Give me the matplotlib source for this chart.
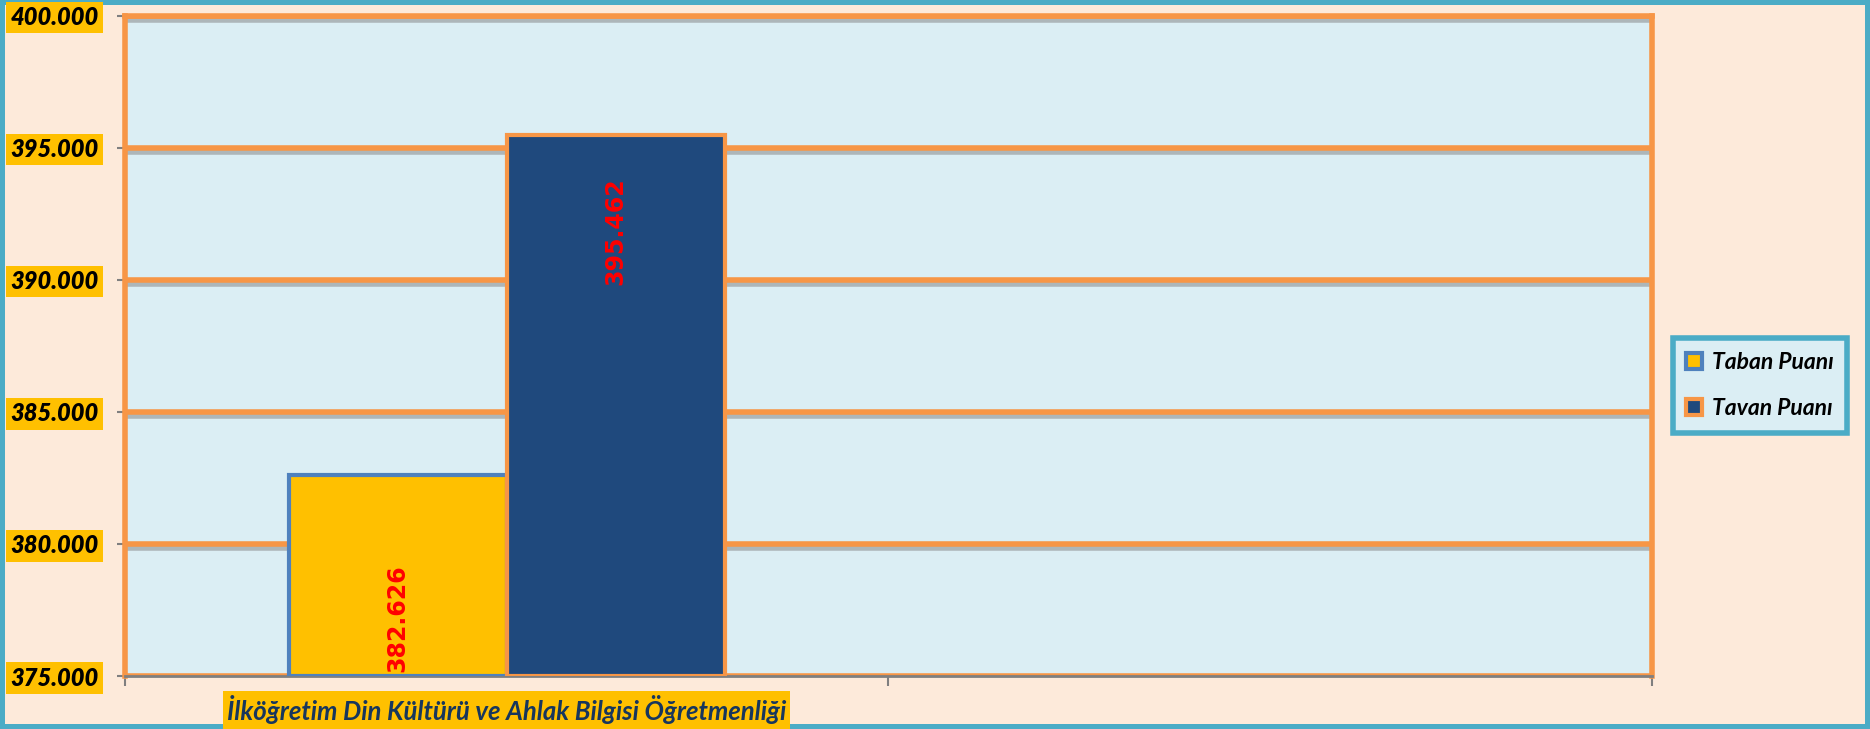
import matplotlib.pyplot as plt
import matplotlib.patheffects as pe

categories = ["İlköğretim Din Kültürü ve Ahlak Bilgisi Öğretmenliği", ""]
series_names = ["Taban Puanı", "Tavan Puanı"]
taban = [382.626, None]
tavan = [395.462, None]
y_ticks = [375, 380, 385, 390, 395, 400]

FONT = ["Lato", "DejaVu Sans"]
ORANGE = "#F79646"
YELLOW = "#FFC000"
NAVY = "#1F497D"
BLUE_EDGE = "#4F81BD"
TEAL = "#4BACC6"
PEACH = "#FDEADA"
PLOT_BG = "#DBEEF4"


def build_chart():
    fig = plt.figure(figsize=(18.7, 7.29), dpi=100)
    fig.patch.set_facecolor(PEACH)
    fig.patch.set_edgecolor(TEAL)
    fig.patch.set_linewidth(6)

    ax = fig.add_axes([0.0668, 0.0727, 0.8166, 0.906])
    ax.set_facecolor(PLOT_BG)

    width = 1 / 3.5
    xs = list(range(len(categories)))
    for i, x in enumerate(xs):
        if taban[i] is not None:
            ax.bar(x - width / 2, taban[i] - 375, width, bottom=375,
                   color=YELLOW, edgecolor=BLUE_EDGE, linewidth=3, zorder=3,
                   label=series_names[0])
            ax.text(x - width / 2, 375.15, f"{taban[i]:.3f}", rotation=90,
                    ha="center", va="bottom", color="red", fontsize=17,
                    fontweight="bold", family="DejaVu Sans", zorder=4)
        if tavan[i] is not None:
            ax.bar(x + width / 2, tavan[i] - 375, width, bottom=375,
                   color=NAVY, edgecolor=ORANGE, linewidth=3, zorder=3,
                   label=series_names[1])
            ax.text(x + width / 2, tavan[i] - 1.6, f"{tavan[i]:.3f}", rotation=90,
                    ha="center", va="top", color="red", fontsize=17,
                    fontweight="bold", family="DejaVu Sans", zorder=4)

    ax.set_xlim(-0.5, len(categories) - 0.5)
    ax.set_ylim(y_ticks[0], y_ticks[-1])

    # y axis
    ax.set_yticks(y_ticks)
    ax.set_yticklabels([f"{v:.3f}" for v in y_ticks])
    ax.tick_params(axis="y", direction="out", length=6, width=1.5,
                   color="#7F7F7F", pad=13)
    for lbl in ax.get_yticklabels():
        lbl.set_family(FONT)
        lbl.set_fontsize(17)
        lbl.set_fontweight("heavy")
        lbl.set_fontstyle("italic")
        lbl.set_bbox(dict(facecolor=YELLOW, edgecolor="none", pad=3))

    # x axis: ticks at category boundaries, labels at centres
    ax.set_xticks([x - 0.5 for x in xs] + [xs[-1] + 0.5])
    ax.set_xticklabels([])
    ax.set_xticks(xs, minor=True)
    ax.set_xticklabels(categories, minor=True)
    ax.tick_params(axis="x", which="major", direction="out", length=7,
                   width=1.5, color="#7F7F7F")
    ax.tick_params(axis="x", which="minor", length=0, pad=14)
    for lbl in ax.get_xticklabels(minor=True):
        lbl.set_family(FONT)
        lbl.set_fontsize(18.5)
        lbl.set_fontweight("bold")
        lbl.set_fontstyle("italic")
        lbl.set_color("#17365D")
        if lbl.get_text():
            lbl.set_bbox(dict(facecolor=YELLOW, edgecolor="none", pad=3))

    ax.grid(axis="y", color=ORANGE, linewidth=4, zorder=1,
            path_effects=[pe.SimpleLineShadow(offset=(0, -3), shadow_color="#808080",
                                              alpha=0.5),
                          pe.Normal()])
    ax.set_axisbelow(True)

    for side in ["top", "right", "left"]:
        ax.spines[side].set_color(ORANGE)
        ax.spines[side].set_linewidth(4)
    ax.spines["bottom"].set_color("#7F7F7F")
    ax.spines["bottom"].set_linewidth(2)

    leg = ax.legend(loc="center left", bbox_to_anchor=(1.006, 0.44),
                    frameon=True, fancybox=False, handlelength=0.7,
                    handleheight=0.7, labelspacing=1.1, borderpad=0.6,
                    handletextpad=0.4,
                    prop=dict(family=FONT, size=16.5, weight="bold", style="italic"))
    frame = leg.get_frame()
    frame.set_facecolor(PLOT_BG)
    frame.set_edgecolor(TEAL)
    frame.set_linewidth(4)
    frame.set_alpha(1)
    return fig


def main():
    fig = build_chart()
    fig.savefig("out.png", dpi=100, facecolor=fig.get_facecolor(),
                edgecolor=fig.get_edgecolor())


if __name__ == "__main__":
    main()
